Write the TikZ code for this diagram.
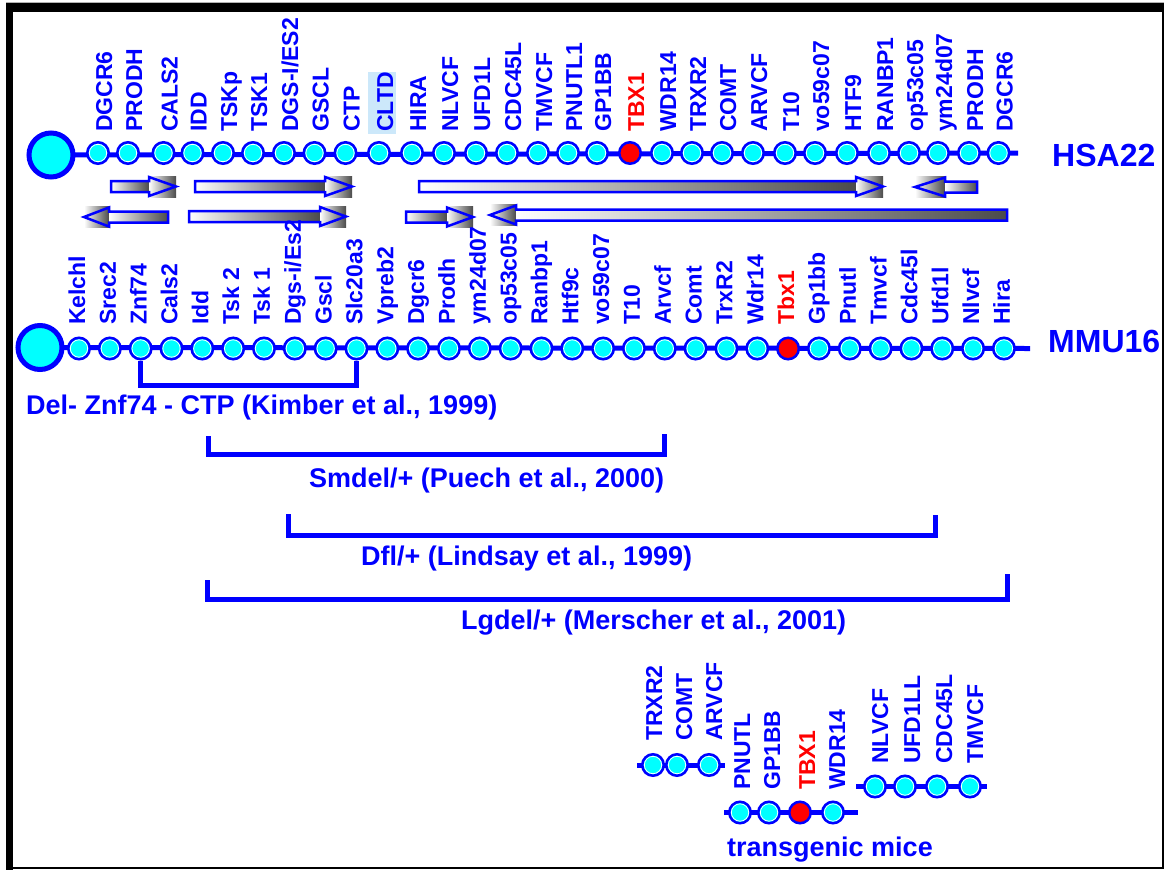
\documentclass[tikz,border=0pt]{standalone}
\usepackage{fontspec}
\setmainfont{Liberation Sans}
\usetikzlibrary{backgrounds}
\definecolor{bl}{RGB}{0,0,255}
\definecolor{cy}{RGB}{0,255,255}
\definecolor{rd}{RGB}{255,0,0}
\definecolor{hl}{RGB}{204,232,250}
\definecolor{dk}{RGB}{75,75,75}
\newcommand\genefont{\fontsize{23}{27}\selectfont\bfseries}
\newcommand\reffont{\fontsize{27}{31}\selectfont\bfseries}
\newcommand\chrfont{\fontsize{32}{36}\selectfont\bfseries}
% right-pointing block arrow: x-start, head base, tip, y-centre
\newcommand\rarr[4]{%
  \shade[left color=white,right color=dk] (#1,#4-5.5) rectangle (#2,#4+5.5);
  \shade[left color=white,right color=dk] (#2,#4-10.5) rectangle (#3,#4+10.5);
  \draw[bl,line width=2.5pt,line join=miter] (#1,#4-5.5) -- (#2,#4-5.5) -- (#2,#4-9.5) -- (#3,#4) -- (#2,#4+9.5) -- (#2,#4+5.5) -- (#1,#4+5.5) -- cycle;}
% left-pointing block arrow: tip, head base, x-end, y-centre
\newcommand\larr[4]{%
  \shade[left color=white,right color=dk] (#1,#4-10.5) rectangle (#2,#4+10.5);
  \shade[left color=white,right color=dk] (#2,#4-5.5) rectangle (#3,#4+5.5);
  \draw[bl,line width=2.5pt,line join=miter] (#3,#4-5.5) -- (#2,#4-5.5) -- (#2,#4-9.5) -- (#1,#4) -- (#2,#4+9.5) -- (#2,#4+5.5) -- (#3,#4+5.5) -- cycle;}
\tikzset{
  bead/.style={circle, minimum size=21.5pt, inner sep=0pt, fill=cy, draw=bl, line width=2.5pt,
    path picture={\draw[white,line width=0.8pt] (path picture bounding box.center) circle (8.7pt);}},
  tbead/.style={circle, minimum size=21.5pt, inner sep=0pt, fill=rd, draw=bl, line width=2.5pt},
  bigbead/.style={circle, minimum size=44pt, inner sep=0pt, fill=cy, draw=bl, line width=5pt},
  chrom/.style={draw=bl, line width=5pt},
  glab/.style={rotate=90, anchor=base west, inner sep=0pt, font=\genefont, text=bl},
  bracket/.style={draw=bl, line width=5pt},
  reftext/.style={font=\reffont, text=bl, inner sep=0pt, anchor=base west},
  chrlab/.style={font=\chrfont, text=bl, inner sep=0pt, anchor=base west},
}
\begin{document}
\begin{tikzpicture}[x=1pt,y=-1pt]
\useasboundingbox (0,0) rectangle (1166,870);
% frame
\draw[gray!60,line width=1pt] (6,2.5) -- (1164,2.5);
\fill[black] (6,3) rectangle (1164,12);
\fill[black] (6,3) rectangle (13,870);
\draw[black,line width=1.2pt] (1163,3) -- (1163,868) -- (6,868);
% CLTD highlight
\fill[hl] (368,72) rectangle (396,134);
% arrows between the chromosomes
\rarr{111}{149}{176}{186.5}
\rarr{195}{325}{352}{186.5}
\rarr{419}{856}{883}{186.5}
\larr{915}{945}{977}{187}
\larr{84}{109}{168}{217}
\rarr{189}{320}{346}{216.5}
\rarr{406}{447}{473}{217}
\larr{490}{516}{1007}{215}
% HSA22
\node[bigbead] (hbig) at (51,155) {};
\coordinate (hend) at (1018,153);
\foreach \x/\g [count=\i] in {98/DGCR6,128/PRODH,163.5/CALS2,192.5/IDD,223/TSKp,253/TSK1,284/{DGS-I/ES2},314.5/GSCL,345.5/CTP,379/CLTD,412/HIRA,444/NLVCF,476/UFD1L,507/CDC45L,538/TMVCF,568/PNUTL1,597/GP1BB,630/TBX1,662/WDR14,692/TRXR2,722/COMT,753/ARVCF,785/T10,815/vo59c07,847/HTF9,879/RANBP1,909/op53c05,938/ym24d07,969/PRODH,998.5/DGCR6}{
  \ifnum\i=18
    \node[tbead] (h\i) at (\x,153) {};
    \node[glab,text=rd] (hl\i) at (\x+14,132) {\g};
  \else
    \node[bead] (h\i) at (\x,153) {};
    \node[glab] (hl\i) at (\x+14,132) {\g};
  \fi
}
\begin{scope}[on background layer]
  \draw[chrom] (hbig.center) -- (hend);
\end{scope}
\node[chrlab] (hsa) at (1052,166) {HSA22};
% MMU16
\node[bigbead] (mbig) at (40,347.5) {};
\coordinate (mend) at (1030,348.5);
\foreach \g [count=\i] in {Kelchl,Srec2,Znf74,Cals2,Idd,Tsk 2,Tsk 1,{Dgs-i/Es2},Gscl,Slc20a3,Vpreb2,Dgcr6,Prodh,ym24d07,op53c05,Ranbp1,Htf9c,vo59c07,T10,Arvcf,Comt,TrxR2,Wdr14,Tbx1,Gp1bb,Pnutl,Tmvcf,Cdc45l,Ufd1l,Nlvcf,Hira}{
  \pgfmathsetmacro\x{79+30.83*(\i-1)}
  \ifnum\i=24
    \node[tbead] (m\i) at (\x,348.5) {};
    \node[glab,text=rd] (ml\i) at (\x+6,325) {\g};
  \else
    \node[bead] (m\i) at (\x,348.5) {};
    \node[glab] (ml\i) at (\x+6,325) {\g};
  \fi
}
\begin{scope}[on background layer]
  \draw[chrom] (mbig.center) -- (mend);
\end{scope}
\node[chrlab] (mmu) at (1048,352) {MMU16};
% deletions
\draw[bracket] (m3.south) -- ++(0,25) -| (m10.south);
\node[reftext] (del) at (26,414) {Del- Znf74 - CTP (Kimber et al., 1999)};
\coordinate (s1) at (208,436); \coordinate (s2) at (664,434);
\draw[bracket] (s1) -- ++(0,18) -| (s2);
\node[reftext] (smdel) at (309,487) {Smdel/+ (Puech et al., 2000)};
\coordinate (d1) at (288,514); \coordinate (d2) at (935,515);
\draw[bracket] (d1) -- ++(0,21) -| (d2);
\node[reftext] (dfl) at (361,565) {Dfl/+ (Lindsay et al., 1999)};
\coordinate (l1) at (207,580); \coordinate (l2) at (1007,574);
\draw[bracket] (l1) -- ++(0,19) -| (l2);
\node[reftext] (lgdel) at (461,629) {Lgdel/+ (Merscher et al., 2001)};
% transgenic mice
\coordinate (g1a) at (637,765); \coordinate (g1b) at (725,765);
\draw[chrom] (g1a) -- (g1b);
\node[bead] (t1) at (653,765) {};
\node[bead] (t2) at (677,765) {};
\node[bead] (t3) at (709,765) {};
\node[glab] (tl1) at (662,741) {TRXR2};
\node[glab] (tl2) at (692,741) {COMT};
\node[glab] (tl3) at (722,741) {ARVCF};
\coordinate (g2a) at (724,812.5); \coordinate (g2b) at (858,812.5);
\draw[chrom] (g2a) -- (g2b);
\node[bead] (t4) at (740,812.5) {};
\node[bead] (t5) at (769,812.5) {};
\node[tbead] (t6) at (800,812.5) {};
\node[bead] (t7) at (833,812.5) {};
\node[glab] (tl4) at (750,790) {PNUTL};
\node[glab] (tl5) at (780,790) {GP1BB};
\node[glab,text=rd] (tl6) at (815,790) {TBX1};
\node[glab] (tl7) at (845,790) {WDR14};
\coordinate (g3a) at (856,786.5); \coordinate (g3b) at (987,786.5);
\draw[chrom] (g3a) -- (g3b);
\node[bead] (t8) at (875,786.5) {};
\node[bead] (t9) at (905,786.5) {};
\node[bead] (t10) at (937,786.5) {};
\node[bead] (t11) at (970,786.5) {};
\node[glab] (tl8) at (888,764) {NLVCF};
\node[glab] (tl9) at (920,764) {UFD1LL};
\node[glab] (tl10) at (952,764) {CDC45L};
\node[glab] (tl11) at (983,764) {TMVCF};
\node[reftext,font=\fontsize{27}{31}\selectfont\bfseries] (tg) at (727,856.5) {transgenic mice};
\end{tikzpicture}
\end{document}
